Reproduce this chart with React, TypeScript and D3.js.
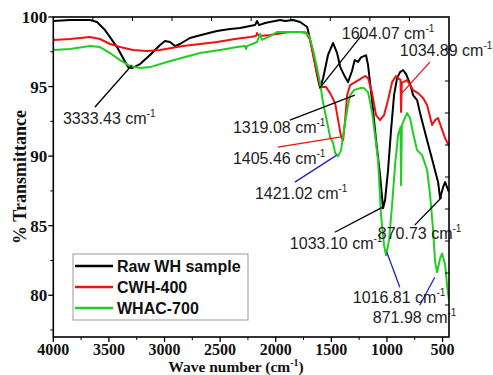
import React from "react";
import * as d3 from "d3";

// ---------- data ----------
const seriesNames = ["Raw WH sample", "CWH-400", "WHAC-700"];
const seriesColors = ["#000000", "#ee1111", "#22cc22"];

// [wave number (cm-1), % transmittance]
const rawWH: [number, number][] = [
  [4000, 99.71], [3850, 99.78], [3670, 99.78], [3607, 99.64], [3535, 99.06], [3427, 97.84],
  [3373, 97.05], [3328, 96.4], [3292, 96.33], [3220, 96.62], [3130, 97.27], [3040, 97.99],
  [2996, 98.27], [2951, 98.2], [2906, 97.91], [2861, 98.06], [2771, 98.49], [2636, 98.78],
  [2528, 98.99], [2411, 99.14], [2321, 99.21], [2231, 99.35], [2186, 99.42], [2168, 99.71],
  [2150, 99.42], [2096, 99.57], [2006, 99.71], [1961, 99.78], [1916, 99.71], [1844, 99.78],
  [1781, 99.64], [1717, 99.28], [1664, 97.41], [1628, 95.83], [1601, 94.89], [1574, 95.6],
  [1529, 97.3], [1484, 98.13], [1448, 97.4], [1420, 96.4], [1376, 95.68], [1350, 95.32],
  [1315, 96.1], [1290, 96.9], [1260, 96.77], [1233, 97.1], [1206, 97.19], [1188, 97.25],
  [1170, 96.55], [1134, 94.03], [1098, 91.15], [1062, 88.63], [1035, 86.26], [1017, 86.83],
  [990, 88.99], [963, 91.87], [936, 94.39], [909, 95.61], [882, 96.04], [855, 96.19],
  [828, 95.9], [792, 95.2], [765, 94.39], [729, 94.03], [702, 93.09], [639, 91.15],
  [585, 89.5], [540, 88.13], [522, 86.98], [495, 87.77], [477, 88.13], [442, 87.41],
];

const cwh400: [number, number][] = [
  [4000, 98.35], [3850, 98.42], [3670, 98.56], [3580, 98.42], [3490, 98.06], [3400, 97.84],
  [3283, 97.63], [3157, 97.55], [3040, 97.63], [2833, 97.91], [2680, 98.06], [2528, 98.2],
  [2366, 98.42], [2231, 98.56], [2177, 98.63], [2168, 98.85], [2150, 98.63], [2051, 98.7],
  [1934, 98.85], [1871, 98.92], [1781, 98.92], [1726, 98.85], [1691, 98.35], [1655, 96.9],
  [1628, 95.97], [1601, 95.11], [1583, 94.96], [1547, 94.96], [1511, 94.53], [1466, 93.81],
  [1439, 92.59], [1412, 91.37], [1394, 91.15], [1376, 92.59], [1358, 94.39], [1331, 95.11],
  [1286, 95.32], [1241, 95.54], [1196, 95.76], [1170, 95.61], [1134, 94.53], [1098, 92.95],
  [1062, 92.59], [1026, 92.95], [990, 94.03], [954, 95.32], [918, 95.76], [891, 95.54],
  [878, 95.5], [873, 93.17], [866, 95.3], [855, 95.32], [819, 95.47], [765, 94.75],
  [720, 94.53], [675, 94.17], [639, 93.67], [594, 92.23], [567, 92.59], [540, 92.73],
  [513, 92.09], [477, 91.29], [442, 90.72],
];

const whac700: [number, number][] = [
  [4000, 97.63], [3850, 97.7], [3670, 97.91], [3580, 97.84], [3490, 97.41], [3400, 96.9],
  [3310, 96.47], [3220, 96.33], [3130, 96.4], [2977, 96.76], [2815, 97.12], [2680, 97.41],
  [2500, 97.63], [2347, 97.84], [2276, 97.91], [2267, 97.7], [2258, 97.91], [2168, 98.2],
  [2141, 98.78], [2123, 98.35], [2051, 98.63], [1988, 98.92], [1871, 98.92], [1736, 98.92],
  [1700, 98.63], [1664, 97.63], [1628, 96.33], [1601, 95.25], [1574, 93.81], [1538, 92.45],
  [1511, 91.37], [1484, 90.94], [1466, 90.22], [1439, 90.0], [1412, 90.43], [1394, 91.51],
  [1358, 93.31], [1331, 94.39], [1295, 94.75], [1241, 94.89], [1206, 94.89], [1170, 94.6],
  [1134, 93.17], [1107, 91.51], [1080, 89.71], [1053, 85.75], [1026, 83.6], [1008, 82.88],
  [981, 83.96], [954, 86.47], [927, 89.35], [900, 91.51], [878, 92.1], [873, 87.9],
  [866, 92.2], [855, 92.45], [819, 93.09], [792, 92.73], [765, 91.65], [729, 90.43],
  [684, 90.07], [639, 89.0], [612, 87.2], [585, 84.7], [567, 82.4], [549, 81.65],
  [522, 82.66], [504, 83.0], [477, 82.2], [459, 80.7], [442, 79.64],
];

const seriesData = [rawWH, cwh400, whac700];

const xMajorTicks = [4000, 3500, 3000, 2500, 2000, 1500, 1000, 500];
const xMinorTicks = [3750, 3250, 2750, 2250, 1750, 1250, 750];
const yMajorTicks = [100, 95, 90, 85, 80];
const yMinorTicks = [97.5, 92.5, 87.5, 82.5, 77.5];

// annotation labels: text, leader colour, text anchor (wn, T), leader from (wn, T) to (wn, T)
const annoLabels = ["3333.43", "1604.07", "1034.89", "1319.08", "1405.46", "1421.02", "1033.10", "870.73", "1016.81", "871.98"];
const annoColors = ["#000", "#000", "#ee1111", "#000", "#ee1111", "#2020d0", "#000", "#000", "#2020d0", "#2020d0"];
const annoText: [number, number][] = [
  [3913, 92.3], [1406, 98.42], [884, 97.19], [2385, 91.65], [2385, 89.42],
  [2187, 86.91], [1873, 83.31], [1082, 84.03], [1307, 79.42], [1127, 77.99],
];
const annoFrom: [number, number][] = [
  [3625, 93.53], [1226, 98.7], [614, 96.76], [1873, 92.59], [1981, 90.65],
  [1828, 88.13], [1469, 84.53], [750, 85.04], [884, 80.58], [705, 79.28],
];
const annoTo: [number, number][] = [
  [3292, 96.55], [1603, 94.9], [866, 94.53], [1289, 94.39], [1424, 91.37],
  [1451, 90.07], [1038, 86.33], [507, 87.05], [1001, 83.09], [570, 81.29],
];

// ---------- layout ----------
const W = 493, H = 375;
const L = 53.3, R = 449, T = 17, B = 337;

export default function App() {
  const x = d3.scaleLinear().domain([4000, 442]).range([L, R]);
  const y = d3.scaleLinear().domain([77, 100]).range([B, T]);
  const line = d3.line<[number, number]>().x((d) => x(d[0])).y((d) => y(d[1])).curve(d3.curveLinear);

  const frac = d3.range(1, 10).map((i) => i / 10);
  const topX = d3.scaleLinear().domain([0, 1]).range([L, R]);
  const rightY = d3.scaleLinear().domain([0, 1]).range([T, B]);

  const serif = "'Liberation Serif', 'Times New Roman', serif";
  const sans = "'Liberation Sans', Arial, sans-serif";

  return (
    <svg width={W} height={H} style={{ position: "absolute", left: 0, top: 0, background: "#fff" }}>
      <rect x={0} y={0} width={W} height={H} fill="#fff" />
      <defs>
        <clipPath id="plot">
          <rect x={L} y={T - 3} width={R - L} height={B - T + 3} />
        </clipPath>
      </defs>

      {/* series */}
      <g clipPath="url(#plot)">
        {seriesData.map((s, i) => (
          <path key={i} d={line(s) || ""} fill="none" stroke={seriesColors[i]} strokeWidth={2} strokeLinejoin="round" />
        ))}
      </g>

      {/* annotation leaders */}
      {annoLabels.map((_, i) => (
        <line key={"l" + i} x1={x(annoFrom[i][0])} y1={y(annoFrom[i][1])} x2={x(annoTo[i][0])} y2={y(annoTo[i][1])}
          stroke={annoColors[i]} strokeWidth={1.3} />
      ))}
      {annoLabels.map((t, i) => (
        <text key={"t" + i} x={x(annoText[i][0])} y={y(annoText[i][1])} fontFamily={sans} fontSize={16} fill="#222">
          {t + " cm"}
          <tspan fontSize={10} dy={-7}>-1</tspan>
        </text>
      ))}

      {/* frame */}
      <rect x={L} y={T} width={R - L} height={B - T} fill="none" stroke="#000" strokeWidth={1.6} />

      {/* bottom axis */}
      {xMajorTicks.map((v) => (
        <g key={"xm" + v}>
          <line x1={x(v)} x2={x(v)} y1={B} y2={B + 5} stroke="#000" strokeWidth={1.3} />
          <text x={x(v)} y={B + 17.5} textAnchor="middle" fontFamily={serif} fontWeight="bold" fontSize={16} fill="#111">{v}</text>
        </g>
      ))}
      {xMinorTicks.map((v) => (
        <line key={"xn" + v} x1={x(v)} x2={x(v)} y1={B} y2={B + 3} stroke="#000" strokeWidth={1} />
      ))}
      {/* left axis */}
      {yMajorTicks.map((v) => (
        <g key={"ym" + v}>
          <line x1={L - 5} x2={L} y1={y(v)} y2={y(v)} stroke="#000" strokeWidth={1.3} />
          <text x={L - 6} y={y(v) + 6} textAnchor="end" fontFamily={serif} fontWeight="bold" fontSize={17} fill="#111">{v}</text>
        </g>
      ))}
      {yMinorTicks.map((v) => (
        <line key={"yn" + v} x1={L - 3} x2={L} y1={y(v)} y2={y(v)} stroke="#000" strokeWidth={1} />
      ))}
      {/* top & right inner ticks */}
      {frac.map((f) => (
        <line key={"tt" + f} x1={topX(f)} x2={topX(f)} y1={T} y2={T + 4} stroke="#000" strokeWidth={1} />
      ))}
      {frac.map((f) => (
        <line key={"rt" + f} x1={R - 4} x2={R} y1={rightY(f)} y2={rightY(f)} stroke="#000" strokeWidth={1} />
      ))}

      {/* axis titles */}
      <text x={236} y={372} textAnchor="middle" fontFamily={serif} fontWeight="bold" fontSize={15.5} fill="#111">
        Wave number (cm<tspan fontSize={10} dy={-6}>-1</tspan><tspan dy={6}>)</tspan>
      </text>
      <text transform={`translate(26, ${(T + B) / 2}) rotate(-90)`} textAnchor="middle" fontFamily={serif} fontWeight="bold" fontSize={18} fill="#111">
        % Transmittance
      </text>

      {/* legend */}
      <g>
        <rect x={73} y={254} width={175} height={66} fill="#fff" stroke="#999" strokeWidth={1} />
        {seriesNames.map((n, i) => (
          <g key={n}>
            <line x1={75} x2={113} y1={266 + i * 21} y2={266 + i * 21} stroke={seriesColors[i]} strokeWidth={2.5} />
            <text x={117} y={272 + i * 21} fontFamily={sans} fontWeight="bold" fontSize={16} fill="#111">{n}</text>
          </g>
        ))}
      </g>
    </svg>
  );
}
